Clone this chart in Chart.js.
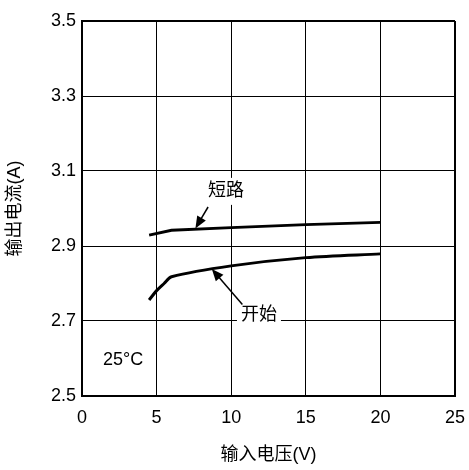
<!DOCTYPE html>
<html>
<head>
<meta charset="utf-8">
<script src="https://cdn.jsdelivr.net/npm/chart.js@4/dist/chart.umd.min.js"></script>
<style>
  html, body { margin: 0; padding: 0; background: #fff; }
  #wrap { width: 469px; height: 470px; }
</style>
</head>
<body>
<div id="wrap"><canvas id="chart" width="469" height="470"></canvas></div>
<script>
// 축 눈금
const xTicks = [0, 5, 10, 15, 20, 25];
const yTicks = [2.5, 2.7, 2.9, 3.1, 3.3, 3.5];

// 단락 전류 (短路)
const shortVin = [4.5, 6, 10, 15, 20];
const shortIout = [2.929, 2.942, 2.949, 2.957, 2.963];

// 시작 전류 (开始)
const startVin = [4.5, 5, 5.5, 6, 10, 15, 20];
const startIout = [2.756, 2.781, 2.800, 2.818, 2.847, 2.869, 2.879];

const FONT = "'Liberation Sans', Arial, 'Noto Sans CJK SC', sans-serif";

// 곡선 라벨 + 화살표 (데이터 좌표)
const notes = [
  { text: '短路', x: 9.65, y: 3.047, from: [8.45, 3.004], to: [7.6, 2.947], box: true },
  { text: '开始', x: 11.86, y: 2.716, from: [10.75, 2.744], to: [8.7, 2.839], box: true },
  { text: '25°C', x: 2.75, y: 2.596, box: false }
];

const toPoints = (xs, ys) => xs.map((x, i) => ({ x, y: ys[i] }));

const notePlugin = {
  id: 'notes',
  afterDatasetsDraw(chart) {
    const { ctx, scales: { x, y } } = chart;
    ctx.save();
    ctx.font = '18px ' + FONT;
    ctx.textAlign = 'center';
    ctx.textBaseline = 'middle';
    notes.forEach(n => {
      const px = x.getPixelForValue(n.x), py = y.getPixelForValue(n.y);
      if (n.box) {
        const w = ctx.measureText(n.text).width;
        ctx.fillStyle = '#fff';
        ctx.fillRect(px - w / 2 - 4, py - 13, w + 8, 27);
      }
      ctx.fillStyle = '#000';
      ctx.fillText(n.text, px, py);
      if (!n.from) return;
      const x1 = x.getPixelForValue(n.from[0]), y1 = y.getPixelForValue(n.from[1]);
      const x2 = x.getPixelForValue(n.to[0]), y2 = y.getPixelForValue(n.to[1]);
      const ang = Math.atan2(y2 - y1, x2 - x1);
      const len = 12, half = 5;
      ctx.strokeStyle = '#000';
      ctx.lineWidth = 1.5;
      ctx.beginPath();
      ctx.moveTo(x1, y1);
      ctx.lineTo(x2 - Math.cos(ang) * len * 0.8, y2 - Math.sin(ang) * len * 0.8);
      ctx.stroke();
      ctx.beginPath();
      ctx.moveTo(x2, y2);
      ctx.lineTo(x2 - Math.cos(ang) * len + Math.sin(ang) * half, y2 - Math.sin(ang) * len - Math.cos(ang) * half);
      ctx.lineTo(x2 - Math.cos(ang) * len - Math.sin(ang) * half, y2 - Math.sin(ang) * len + Math.cos(ang) * half);
      ctx.closePath();
      ctx.fill();
    });
    ctx.restore();
  }
};

const edgeWidth = (c, count) => (c.index === 0 || c.index === count - 1) ? 2 : 1;

new Chart(document.getElementById('chart'), {
  type: 'line',
  data: {
    datasets: [
      { label: '短路', data: toPoints(shortVin, shortIout), borderColor: '#000', borderWidth: 3, pointRadius: 0, tension: 0 },
      { label: '开始', data: toPoints(startVin, startIout), borderColor: '#000', borderWidth: 3, pointRadius: 0, tension: 0.3 }
    ]
  },
  options: {
    responsive: false,
    animation: false,
    layout: { padding: { left: 0, right: 14, top: 21, bottom: 0 } },
    plugins: { legend: { display: false }, tooltip: { enabled: false } },
    scales: {
      x: {
        type: 'linear',
        min: 0, max: 25,
        afterBuildTicks: s => { s.ticks = xTicks.map(v => ({ value: v })); },
        afterFit: s => { s.height = 74; s.paddingLeft = 0; s.paddingRight = 0; },
        ticks: { padding: 11, color: '#000', font: { family: FONT, size: 18 }, callback: v => String(v) },
        grid: { color: '#000', lineWidth: c => edgeWidth(c, xTicks.length), drawTicks: false },
        border: { color: '#000', width: 2 },
        title: { display: true, text: '输入电压(V)', color: '#000', font: { family: FONT, size: 18 }, padding: { top: 4, bottom: 4 } }
      },
      y: {
        type: 'linear',
        min: 2.5, max: 3.5,
        afterBuildTicks: s => { s.ticks = yTicks.map(v => ({ value: v })); },
        afterFit: s => { s.width = 82; s.paddingTop = 0; s.paddingBottom = 0; },
        ticks: { padding: 6, color: '#000', font: { family: FONT, size: 18 }, callback: v => v.toFixed(1) },
        grid: { color: '#000', lineWidth: c => edgeWidth(c, yTicks.length), drawTicks: false },
        border: { color: '#000', width: 2 },
        title: { display: true, text: '输出电流(A)', color: '#000', font: { family: FONT, size: 18 }, padding: { top: 4, bottom: 4 } }
      }
    }
  },
  plugins: [notePlugin]
});
</script>
</body>
</html>
